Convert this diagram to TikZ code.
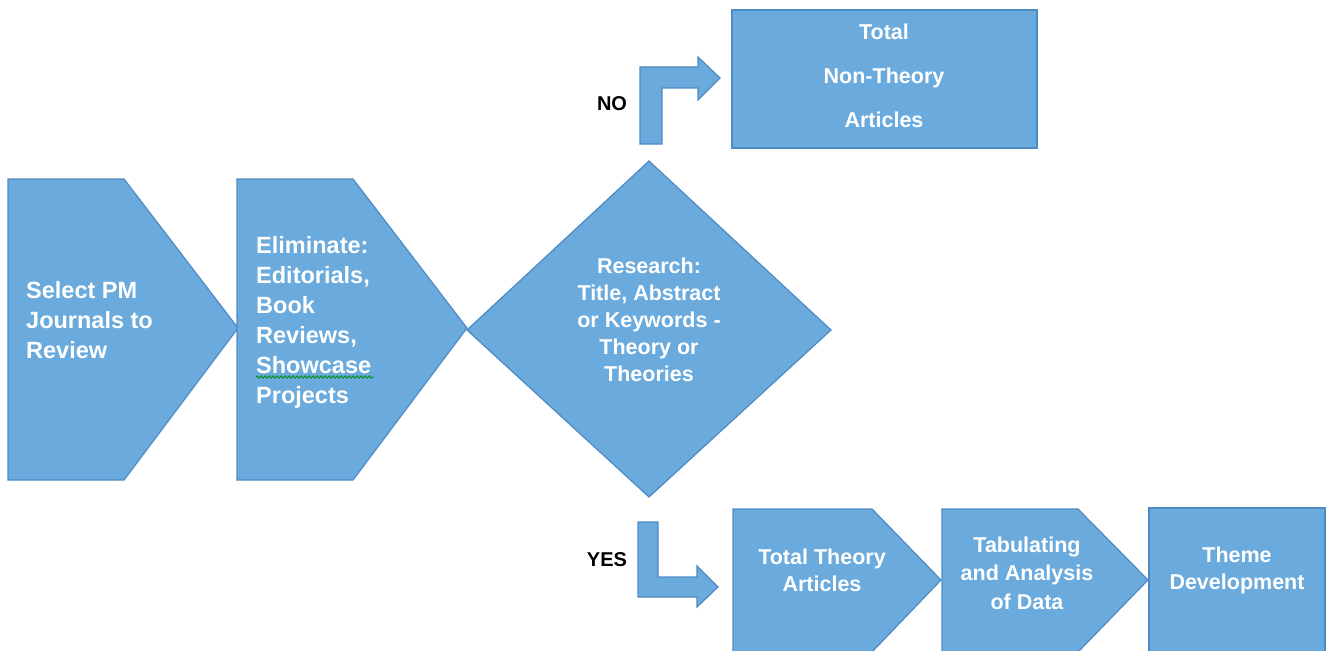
\documentclass[tikz,border=0pt]{standalone}
\usepackage{fontspec}
\setmainfont{Liberation Sans}
\usetikzlibrary{decorations.pathmorphing}
\definecolor{boxblue}{RGB}{106,170,220}
\definecolor{edgeblue}{RGB}{78,138,196}
\tikzset{
    blk/.style={fill=boxblue, draw=edgeblue, line width=1.2pt, line join=miter},
    txt/.style={text=white, inner sep=0pt, font=\bfseries\fontsize{21.5}{27}\selectfont, align=center},
    bigtxt/.style={text=white, inner sep=0pt, font=\bfseries\fontsize{23.5}{30}\selectfont, align=left, anchor=west},
    lbl/.style={text=black, inner sep=0pt, font=\bfseries\fontsize{20}{24}\selectfont}
}
\begin{document}
\begin{tikzpicture}[x=1pt,y=-1pt]
    \useasboundingbox (0,0) rectangle (1332,650);
    % pentagon arrows
    \foreach \xl/\xr/\xt/\yt/\ym/\yb in {8/124/238/179/328/480, 237/353/467/179/328/480, 733/872/941/509/580/652, 942/1078/1148/509/580/652}
    {
        \draw[blk] (\xl,\yt) -- (\xr,\yt) -- (\xt,\ym) -- (\xr,\yb) -- (\xl,\yb) -- cycle;
    }
    % decision
    \draw[blk] (649,161) -- (831,330) -- (649,497) -- (467,330) -- cycle;
    \draw[blk] (732,10) rectangle (1037,148);
    \draw[blk] (1149,508) rectangle (1325,652);
    % bent arrows
    \draw[blk] (640,144) -- (640,67) -- (698,67) -- (698,57) -- (720,78) -- (698,100) -- (698,88) -- (662,88) -- (662,144) -- cycle;
    \draw[blk] (638,522) -- (638,597) -- (697,597) -- (697,607) -- (718,587) -- (697,566) -- (697,577) -- (658,577) -- (658,522) -- cycle;

    \node[bigtxt] (select) at (26,320) {Select PM\\Journals to\\Review};
    \node[bigtxt] (elim) at (256,322) {Eliminate:\\Editorials,\\Book\\Reviews,\\Showcase\\Projects};
    \draw[green!55!black, line width=0.8pt, decorate, decoration={snake, amplitude=1.2pt, segment length=4pt}] (256,377) -- (374,377);
    \node[txt] (research) at (649,320) {Research:\\Title, Abstract\\or Keywords -\\Theory or\\Theories};
    \node[txt, font=\bfseries\fontsize{21.5}{44}\selectfont] (nontheory) at (884,76) {Total\\Non-Theory\\Articles};
    \node[txt] (theory) at (822,570) {Total Theory\\Articles};
    \node[txt, font=\bfseries\fontsize{21.5}{28.5}\selectfont] (tabul) at (1027,573) {Tabulating\\and Analysis\\of Data};
    \node[txt] (theme) at (1237,570) {Theme\\Development};
    \node[lbl] (no) at (612,104) {NO};
    \node[lbl] (yes) at (607,560) {YES};
\end{tikzpicture}
\end{document}
